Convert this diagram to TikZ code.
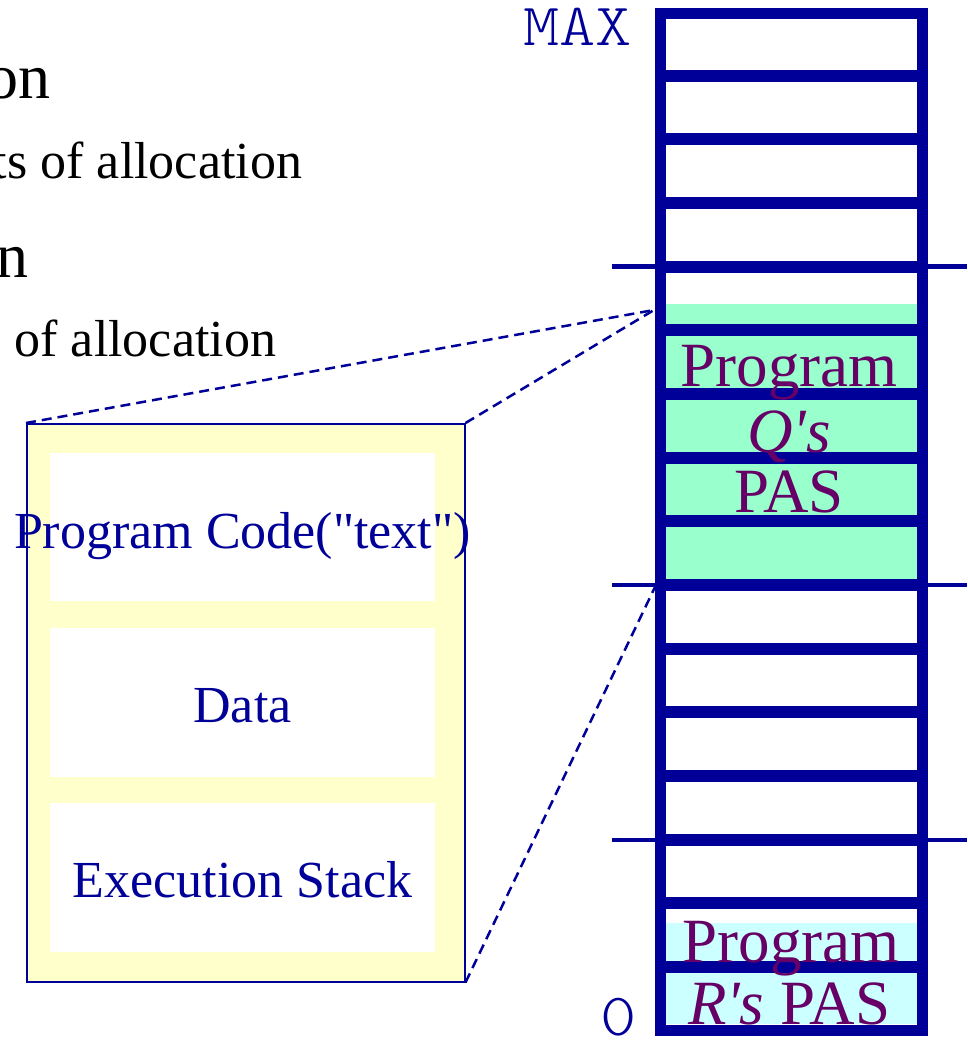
\documentclass[tikz,border=0pt]{standalone}
\usepackage{fontspec}
\setmainfont{Liberation Serif}
% same face without TeX ligature mapping, for straight quote marks
\newfontfamily\rawserif{Liberation Serif}
\newfontfamily\addrfont{Latin Modern Mono Light}
\definecolor{memblue}{HTML}{000099}
\definecolor{paspurple}{HTML}{660066}
\definecolor{qfill}{HTML}{99FFCC}
\definecolor{rfill}{HTML}{CCFFFF}
\definecolor{pasyellow}{HTML}{FFFFCC}
\newcommand{\bigtext}{\fontsize{63}{63}\selectfont}
\newcommand{\midtext}{\fontsize{52}{52}\selectfont}
\newcommand{\headtext}{\fontsize{64}{64}\selectfont}
\newcommand{\addrtext}{\fontsize{60}{60}\selectfont\addrfont}
\newcommand{\sq}{{\rawserif\itshape\char"27}}
\newcommand{\dq}{{\rawserif\char"22}}
\begin{document}
\begin{tikzpicture}[x=1pt,y=-1pt,
  txt/.style={inner sep=0pt, outer sep=0pt},
  pastxt/.style={txt, anchor=base, text=paspurple, font=\bigtext},
  segtxt/.style={txt, anchor=base, text=memblue, font=\midtext},
  headline/.style={txt, anchor=base east, text=black, font=\headtext},
  subline/.style={txt, anchor=base east, text=black, font=\midtext},
  addr/.style={txt, anchor=base east, text=memblue, font=\addrtext},
  pasbox/.style={draw=memblue, line width=1.5pt, fill=pasyellow, inner sep=0pt, anchor=north west},
  segbox/.style={fill=white, inner sep=0pt, anchor=north west, minimum width=385pt},
  divider/.style={draw=memblue, line width=12pt},
  tick/.style={draw=memblue, line width=4.5pt},
  zoomlink/.style={draw=memblue, line width=2.5pt, dash pattern=on 10pt off 6pt}
]
\useasboundingbox (0,0) rectangle (967,1042);
\clip (0,0) rectangle (967,1042);
\fill[white] (0,0) rectangle (967,1042);

% slide text on the left
\node[headline] (h1) at (51,98) {on};
\node[subline] (s1) at (302,178) {ts of allocation};
\node[headline] (h2) at (29,277) {n};
\node[subline] (s2) at (276,356) {of allocation};

% points on the memory column where the zoom lines meet it
\coordinate (qtop) at (654,310);
\coordinate (qbot) at (655,587);

% process address space, enlarged
\node[pasbox, minimum width=438pt, minimum height=558pt] (pas) at (26,423) {};
\draw[zoomlink] (pas.north west) -- (qtop);
\draw[zoomlink] (pas.north east) -- (qtop);
\draw[zoomlink] (pas.south east) -- (qbot);
\node[segbox, minimum height=148pt] (code) at (50,453) {};
\node[segbox, minimum height=149pt] (data) at (50,628) {};
\node[segbox, minimum height=149pt] (stack) at (50,803) {};
\node[segtxt] (codelbl) at (242.5,548) {Program Code(\dq text\dq)};
\node[segtxt] (datalbl) at (242.5,722) {Data};
\node[segtxt] (stacklbl) at (242.5,897) {Execution Stack};

% memory column
\fill[qfill] (665,304) rectangle (917,585);
\fill[rfill] (665,923) rectangle (917,1024);
\foreach \y in {266.5,585,840}
  \draw[tick] (612,\y) -- (967,\y);
\draw[memblue, line width=11pt] (660,13.5) rectangle (922,1030);
\foreach \y in {75.5,139,203,266.5,330,394,458,521,585,649,712,776,840,903,967}
  \draw[divider] (655,\y) -- (927,\y);

% address labels
\node[addr] (maxlbl) at (632,45) {\scalebox{1.15}[1]{MAX}};
\node[addr] (zerolbl) at (637,1035) {\scalebox{1.15}[1]{0}};

% program labels
\node[pastxt] (q1) at (789,386) {Program};
\node[pastxt] (q2) at (789,452) {\textit{Q\sq s}};
\node[pastxt] (q3) at (789,512) {PAS};
\node[pastxt] (r1) at (791,962) {Program};
\node[pastxt] (r2) at (789,1024) {\textit{R\sq s} PAS};
\end{tikzpicture}
\end{document}
